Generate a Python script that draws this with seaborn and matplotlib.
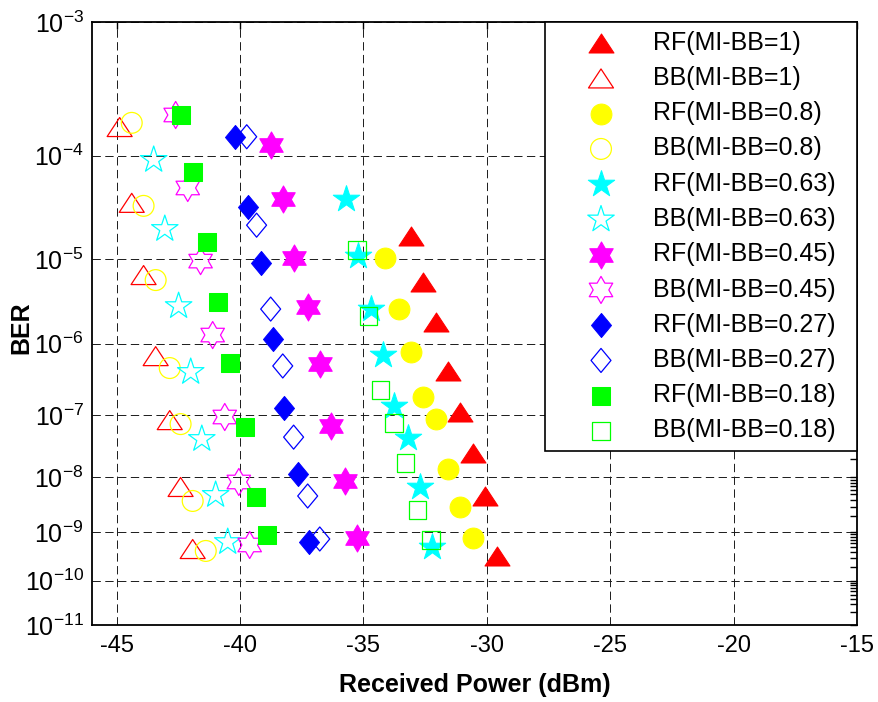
import numpy as np
import matplotlib
matplotlib.use("Agg")
import matplotlib.pyplot as plt
import seaborn as sns
from matplotlib.path import Path
from matplotlib.ticker import FixedLocator, FuncFormatter, NullFormatter

# ---------------- data ----------------
labels = ["RF(MI-BB=1)", "BB(MI-BB=1)", "RF(MI-BB=0.8)", "BB(MI-BB=0.8)",
          "RF(MI-BB=0.63)", "BB(MI-BB=0.63)", "RF(MI-BB=0.45)", "BB(MI-BB=0.45)",
          "RF(MI-BB=0.27)", "BB(MI-BB=0.27)", "RF(MI-BB=0.18)", "BB(MI-BB=0.18)"]

rf1_x = [-33.08, -32.6, -32.07, -31.58, -31.1, -30.57, -30.08, -29.6]
rf1_y = [1.75e-5, 5.58e-6, 1.88e-6, 4.32e-7, 1.11e-7, 2.56e-8, 4.67e-9, 3.31e-10]
bb1_x = [-44.88, -44.39, -43.91, -43.42, -42.85, -42.41, -41.92]
bb1_y = [1.73e-4, 3.72e-5, 6.68e-6, 6.87e-7, 8.43e-8, 6.76e-9, 4.58e-10]
rf08_x = [-34.14, -33.57, -33.08, -32.6, -32.07, -31.58, -31.1, -30.57]
rf08_y = [1.03e-5, 2.70e-6, 7.78e-7, 1.86e-7, 8.75e-8, 1.38e-8, 2.94e-9, 7.59e-10]
bb08_x = [-44.39, -43.91, -43.42, -42.85, -42.41, -41.92, -41.39]
bb08_y = [1.87e-4, 3.48e-5, 5.87e-6, 4.75e-7, 7.33e-8, 3.80e-9, 4.19e-10]
rf063_x = [-35.72, -35.23, -34.7, -34.22, -33.77, -33.2, -32.72, -32.23]
rf063_y = [4.06e-5, 1.08e-5, 2.70e-6, 7.10e-7, 1.37e-7, 4.44e-8, 6.76e-9, 5.02e-10]
bb063_x = [-43.5, -43.05, -42.49, -42.0, -41.55, -40.99, -40.5]
bb063_y = [9.16e-5, 2.06e-5, 2.93e-6, 4.20e-7, 4.29e-8, 4.88e-9, 6.32e-10]
rf045_x = [-38.76, -38.27, -37.83, -37.26, -36.77, -36.33, -35.76, -35.27]
rf045_y = [1.23e-4, 4.06e-5, 1.03e-5, 2.85e-6, 5.40e-7, 6.83e-8, 8.61e-9, 7.59e-10]
bb045_x = [-42.61, -42.12, -41.6, -41.11, -40.62, -40.05, -39.61]
bb045_y = [2.16e-4, 5.13e-5, 9.51e-6, 1.29e-6, 9.40e-8, 8.26e-9, 5.52e-10]
rf027_x = [-40.22, -39.69, -39.16, -38.68, -38.23, -37.66, -37.22]
rf027_y = [1.44e-4, 3.40e-5, 9.06e-6, 1.15e-6, 1.28e-7, 1.14e-8, 6.32e-10]
bb027_x = [-39.73, -39.33, -38.76, -38.27, -37.83, -37.26, -36.77]
bb027_y = [1.44e-4, 2.25e-5, 2.70e-6, 5.07e-7, 4.59e-8, 4.67e-9, 7.26e-10]
rf018_x = [-42.41, -41.92, -41.35, -40.91, -40.42, -39.81, -39.37, -38.92]
rf018_y = [2.16e-4, 7.16e-5, 1.52e-5, 3.27e-6, 5.56e-7, 6.59e-8, 4.49e-9, 8.67e-10]
bb018_x = [-35.27, -34.79, -34.3, -33.77, -33.29, -32.8, -32.27]
bb018_y = [1.25e-5, 2.23e-6, 2.34e-7, 7.59e-8, 1.75e-8, 2.59e-9, 6.95e-10]

x_ticks = [-45, -40, -35, -30, -25, -20, -15]
y_exps = [-11, -10, -9, -8, -7, -6, -5, -4, -3]

# ---------------- style ----------------
sns.set_style("white")
plt.rcParams["font.family"] = ["Liberation Sans", "DejaVu Sans"]
plt.rcParams["mathtext.fontset"] = "custom"
plt.rcParams["mathtext.rm"] = "Liberation Sans"
plt.rcParams["mathtext.default"] = "regular"
plt.rcParams["lines.scale_dashes"] = False
for key in ["text.color", "axes.labelcolor", "xtick.color", "ytick.color",
            "xtick.labelcolor", "ytick.labelcolor"]:
    plt.rcParams[key] = "black"

MV = [Path.MOVETO, Path.LINETO, Path.LINETO, Path.CLOSEPOLY]
tri = Path([(0, 0.76), (-1, -0.76), (1, -0.76), (0, 0.76)], MV)
dia = Path([(0, 1), (0.83, 0), (0, -1), (-0.83, 0), (0, 1)],
           [Path.MOVETO, Path.LINETO, Path.LINETO, Path.LINETO, Path.CLOSEPOLY])
hexa = Path.unit_regular_star(6, 0.577)

RED, YEL, CYA, MAG, BLU, GRN = "#FF0000", "#FFFF00", "#00FFFF", "#FF00FF", "#0000FF", "#00FF00"

series = [
    (rf1_x, rf1_y, tri, 18, RED, True),
    (bb1_x, bb1_y, tri, 18, RED, False),
    (rf08_x, rf08_y, "o", 15, YEL, True),
    (bb08_x, bb08_y, "o", 15, YEL, False),
    (rf063_x, rf063_y, "*", 20, CYA, True),
    (bb063_x, bb063_y, "*", 20, CYA, False),
    (rf045_x, rf045_y, hexa, 19.5, MAG, True),
    (bb045_x, bb045_y, hexa, 19.5, MAG, False),
    (rf027_x, rf027_y, dia, 17.3, BLU, True),
    (bb027_x, bb027_y, dia, 17.3, BLU, False),
    (rf018_x, rf018_y, "s", 12.6, GRN, True),
    (bb018_x, bb018_y, "s", 12.6, GRN, False),
]

W, H = 879, 702
fig = plt.figure(figsize=(W / 100, H / 100), dpi=100)
L, R, T, B = 92, 857, 22, 625
ax = fig.add_axes([L / W, 1 - B / H, (R - L) / W, (B - T) / H])


def fwd(y):
    y = np.asarray(y, dtype=float)
    with np.errstate(all="ignore"):
        return -np.log10(-np.log10(y))


def inv(v):
    v = np.asarray(v, dtype=float)
    with np.errstate(all="ignore"):
        return 10.0 ** (-(10.0 ** (-v)))


ax.set_yscale("function", functions=(fwd, inv))

for (xs, ys, mk, ms, col, filled), lab in zip(series, labels):
    if filled:
        sns.scatterplot(x=xs, y=ys, marker=mk, s=ms ** 2, color=col,
                        edgecolor=col, linewidth=0.75, label=lab, ax=ax,
                        legend=False, zorder=3)
    else:
        sns.scatterplot(x=xs, y=ys, marker=mk, s=ms ** 2, color=col,
                        facecolor="none", edgecolor=col, linewidth=0.9,
                        label=lab, ax=ax, legend=False, zorder=3)

ax.set_xlim(-46, -15)
ax.set_ylim(1e-11, 1e-3)
ax.set_xticks(x_ticks)
ax.set_xticklabels([str(t) for t in x_ticks], fontsize=17)

ax.yaxis.set_major_locator(FixedLocator([10.0 ** e for e in y_exps]))
ax.yaxis.set_major_formatter(FuncFormatter(lambda v, p: r"$10^{%d}$" % int(round(np.log10(v)))))
minors = [k * 10.0 ** e for e in y_exps[:-1] for k in range(2, 10)]
ax.yaxis.set_minor_locator(FixedLocator(minors))
ax.yaxis.set_minor_formatter(NullFormatter())
ax.tick_params(axis="y", which="major", labelsize=18, pad=6)
ax.tick_params(axis="x", which="major", pad=7)
ax.tick_params(which="both", direction="in", top=True, right=True,
               length=5, width=1.0, color="k", labelcolor="k")

ax.set_axisbelow(True)
ax.grid(True, which="major", color="#1a1a1a", linestyle=(0, (6, 3.2)), linewidth=0.7)
for sp in ax.spines.values():
    sp.set_color("k")
    sp.set_linewidth(1.3)

ax.set_xlabel("Received Power (dBm)", fontsize=18, fontweight="bold", labelpad=12, color="k")
ax.set_ylabel("BER", fontsize=18, fontweight="bold", color="k")
ax.yaxis.set_label_coords((33 - L) / (R - L), (B - 328) / (B - T))

lx0 = (545 - L) / (R - L)
ly0 = (B - 452) / (B - T)
leg = ax.legend(loc="upper right", bbox_to_anchor=(lx0, ly0, 1 - lx0, 1 - ly0),
                mode="expand", borderaxespad=0, frameon=True, fancybox=False,
                framealpha=1, edgecolor="k", fontsize=18, labelspacing=0.45,
                handlelength=3.78, handletextpad=0.19, borderpad=0.35,
                scatterpoints=1, labelcolor="k")
leg.get_frame().set_linewidth(1.2)
leg.set_zorder(10)

fig.savefig("out.png", dpi=100)
